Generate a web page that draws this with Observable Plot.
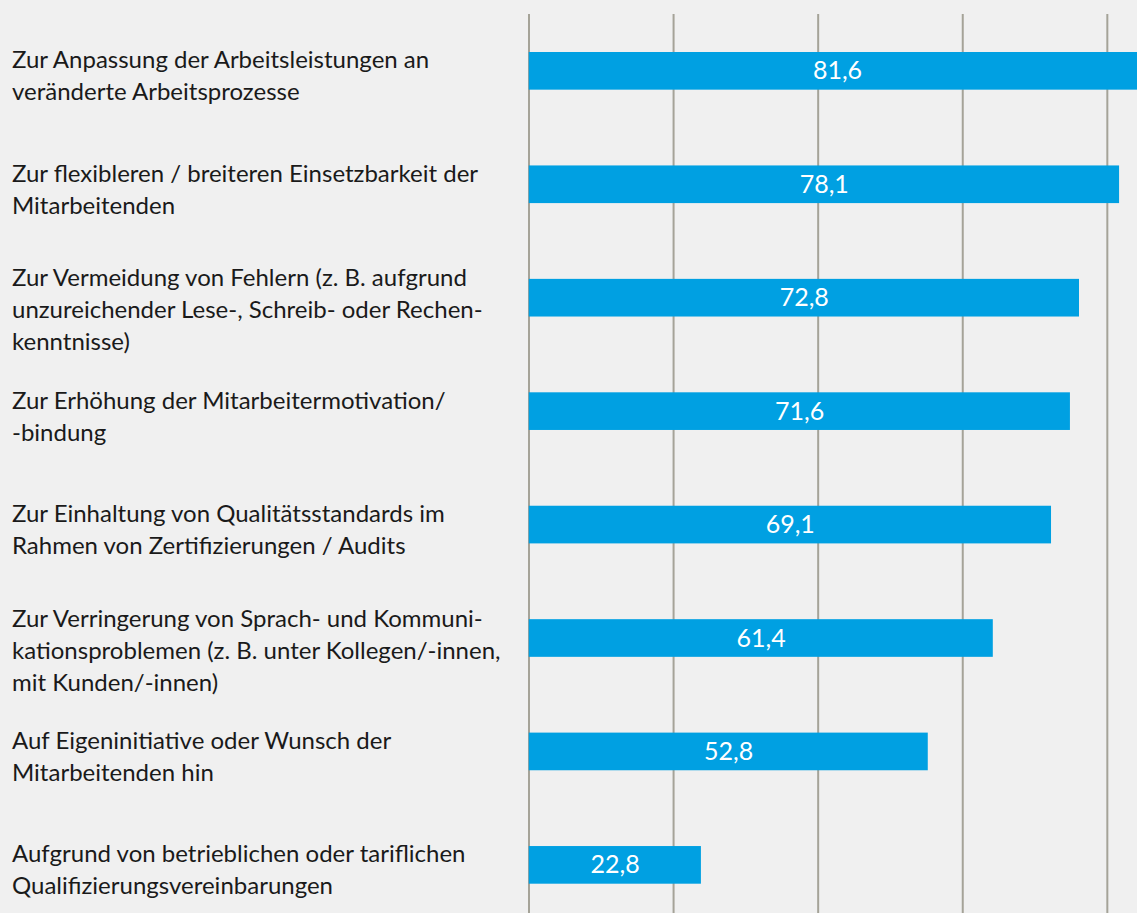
<!DOCTYPE html>
<html>
<head>
<meta charset="utf-8">
<script src="https://cdn.jsdelivr.net/npm/d3@7"></script>
<script src="https://cdn.jsdelivr.net/npm/@observablehq/plot@0.6"></script>
<style>
  html, body { margin: 0; padding: 0; background: #f0f0f0; overflow: hidden; }
  #chart svg { display: block; background: #f0f0f0; }
</style>
</head>
<body>
<div id="chart"></div>
<script>
const categories = [
  "Zur Anpassung der Arbeitsleistungen an\nveränderte Arbeitsprozesse",
  "Zur flexibleren / breiteren Einsetzbarkeit der\nMitarbeitenden",
  "Zur Vermeidung von Fehlern (z. B. aufgrund\nunzureichender Lese-, Schreib- oder Rechen-\nkenntnisse)",
  "Zur Erhöhung der Mitarbeitermotivation/\n-bindung",
  "Zur Einhaltung von Qualitätsstandards im\nRahmen von Zertifizierungen / Audits",
  "Zur Verringerung von Sprach- und Kommuni-\nkationsproblemen (z. B. unter Kollegen/-innen,\nmit Kunden/-innen)",
  "Auf Eigeninitiative oder Wunsch der\nMitarbeitenden hin",
  "Aufgrund von betrieblichen oder tariflichen\nQualifizierungsvereinbarungen"
];
const values = [81.6, 78.1, 72.8, 71.6, 69.1, 61.4, 52.8, 22.8];
const valueLabels = ["81,6", "78,1", "72,8", "71,6", "69,1", "61,4", "52,8", "22,8"];
const gridValues = [0, 19.12, 38.24, 57.36, 76.48];

const data = categories.map((c, i) => ({
  category: c,
  value: values[i],
  label: valueLabels[i],
  lines: c.split("\n").length
}));

const font = "Lato, 'Open Sans', sans-serif";

const chart = Plot.plot({
  width: 1137,
  height: 913,
  marginLeft: 528.5,
  marginRight: 0,
  marginTop: 14,
  marginBottom: 0,
  style: { background: "#f0f0f0", fontFamily: font },
  x: { domain: [0, 80.47], axis: null },
  y: { domain: categories, range: [52, 883.7], paddingInner: 0.668, paddingOuter: 0, round: false, axis: null },
  marks: [
    Plot.ruleX(gridValues, { x: d => d, stroke: "#a5a398", strokeWidth: 2 }),
    Plot.barX(data, { x: "value", y: "category", fill: "#00a0e2", clip: true }),
    Plot.text(data, {
      x: d => d.value / 2, y: "category", text: "label",
      fill: "white", fontSize: 25, fontFamily: font, fontWeight: 400, textAnchor: "middle"
    }),
    Plot.text(data.filter(d => d.lines === 2), {
      y: "category", text: "category", frameAnchor: "left", dx: -517,
      textAnchor: "start", lineAnchor: "top", dy: -25.7, lineHeight: 32 / 24,
      fontSize: 24, fontFamily: font, fontWeight: 400, fill: "#1a1a1a"
    }),
    Plot.text(data.filter(d => d.lines === 3), {
      y: "category", text: "category", frameAnchor: "left", dx: -517,
      textAnchor: "start", lineAnchor: "top", dy: -34.7, lineHeight: 32 / 24,
      fontSize: 24, fontFamily: font, fontWeight: 400, fill: "#1a1a1a"
    })
  ]
});

document.getElementById("chart").appendChild(chart);
</script>
</body>
</html>
